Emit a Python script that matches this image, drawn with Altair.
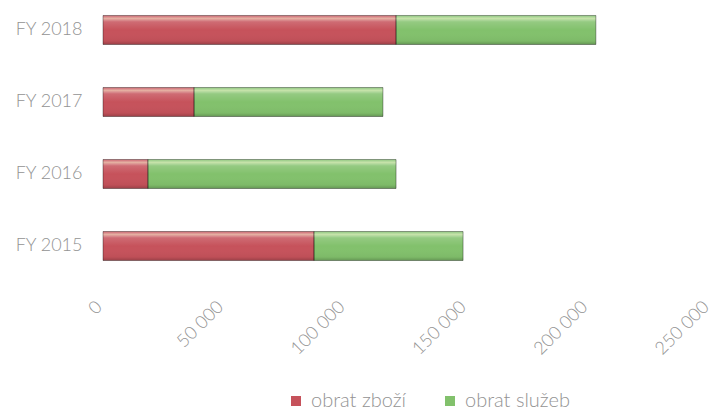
import altair as alt
import pandas as pd

years = ["FY 2018", "FY 2017", "FY 2016", "FY 2015"]
series = ["obrat zboží", "obrat služeb"]
zbozi = [120700, 37500, 18500, 86900]
sluzeb = [82300, 77800, 102200, 61400]
x_ticks = [0, 50000, 100000, 150000, 200000, 250000]
colors = ["#c6525b", "#82c16c"]

rows = []
for y, a, b in zip(years, zbozi, sluzeb):
    rows.append({"year": y, "series": series[0], "start": 0, "end": a})
    rows.append({"year": y, "series": series[1], "start": a, "end": a + b})
df = pd.DataFrame(rows)

FONT = "Lato"
GRAY = "#939393"

y_enc = alt.Y(
    "year:N",
    sort=years,
    title=None,
    scale=alt.Scale(paddingInner=0.597, paddingOuter=0.215),
    axis=alt.Axis(ticks=False, domain=False, grid=False, labelPadding=21,
                  labelFont=FONT, labelFontSize=18, labelFontWeight=300,
                  labelColor=GRAY),
)
x_enc = alt.X(
    "start:Q",
    title=None,
    scale=alt.Scale(domain=[0, 250000], nice=False, zero=True),
    axis=alt.Axis(values=x_ticks, labelAngle=-45, labelAlign="right",
                  labelBaseline="middle", labelPadding=28, labelFlush=False,
                  labelOffset=-4,
                  ticks=False, domain=False, grid=False,
                  labelFont=FONT, labelFontSize=18, labelFontWeight=300,
                  labelColor=GRAY,
                  labelExpr="replace(format(datum.value, ','), ',', ' ')"),
)

base = alt.Chart(df)

bars = base.mark_bar(cornerRadius=0).encode(
    y=y_enc,
    x=x_enc,
    x2="end:Q",
    color=alt.Color(
        "series:N",
        sort=series,
        scale=alt.Scale(domain=series, range=colors),
        legend=alt.Legend(
            title=None, orient="none", direction="horizontal",
            legendX=183, legendY=391, symbolType="square", symbolSize=100,
            symbolStrokeWidth=0, labelFont=FONT, labelFontSize=20,
            labelFontWeight=300, labelColor=GRAY, columnPadding=33,
            labelOffset=5,
        ),
    ),
)

shade = alt.Gradient(
    gradient="linear",
    x1=0, x2=0, y1=0, y2=1,
    stops=[
        alt.GradientStop(color="rgba(255,255,255,0.10)", offset=0),
        alt.GradientStop(color="rgba(255,255,220,0.55)", offset=0.1),
        alt.GradientStop(color="rgba(255,255,255,0.15)", offset=0.22),
        alt.GradientStop(color="rgba(255,255,255,0.0)", offset=0.5),
        alt.GradientStop(color="rgba(0,0,0,0.04)", offset=0.88),
        alt.GradientStop(color="rgba(0,0,0,0.22)", offset=1),
    ],
)

gloss = base.mark_bar(fill=shade, stroke="rgba(0,0,0,0.35)", strokeWidth=1).encode(
    y=alt.Y("year:N", sort=years),
    x=alt.X("start:Q"),
    x2="end:Q",
)

chart = (
    alt.layer(bars, gloss)
    .properties(
        width=607,
        height=276,
        autosize=alt.AutoSizeParams(type="none"),
        padding={"left": 103, "top": 0, "right": 3, "bottom": 141},
        background="white",
    )
    .configure_view(stroke=None)
)

chart.save("out.html", embed_options={"renderer": "svg", "actions": False})
